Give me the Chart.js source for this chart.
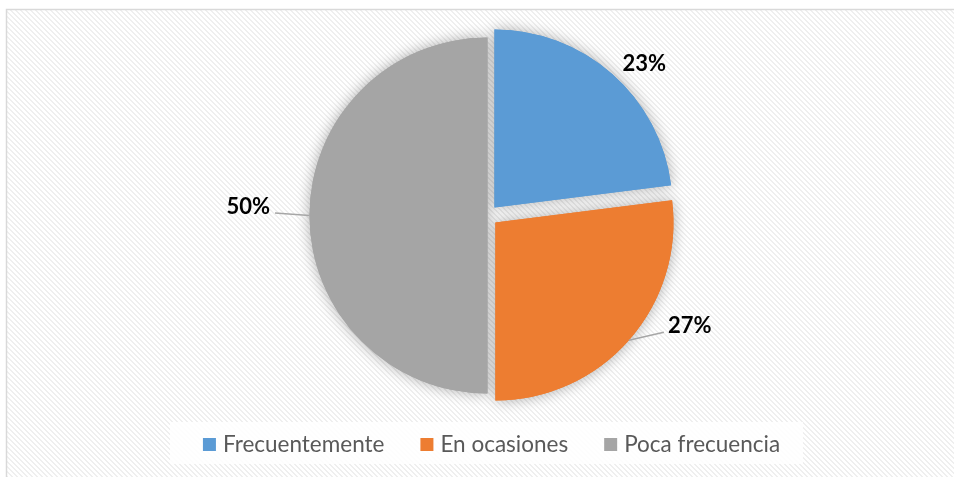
<!DOCTYPE html>
<html>
<head>
<meta charset="utf-8">
<script src="https://cdn.jsdelivr.net/npm/chart.js@4.4.0/dist/chart.umd.min.js"></script>
<style>
html,body{margin:0;padding:0;background:#fff;}
#wrap{width:954px;height:477px;position:relative;}
</style>
</head>
<body>
<div id="wrap"><canvas id="c"></canvas></div>
<script>
const categories = ['Frecuentemente', 'En ocasiones', 'Poca frecuencia'];
const values = [23, 27, 50];
const colors = ['#5b9bd5', '#ed7d31', '#a5a5a5'];

// hatch pattern
function makePattern(ctx) {
  const p = document.createElement('canvas');
  p.width = 5; p.height = 5;
  const g = p.getContext('2d');
  g.fillStyle = '#ffffff';
  g.fillRect(0, 0, 5, 5);
  g.fillStyle = '#efefef';
  for (let i = 0; i < 5; i++) {
    g.fillRect(i, i, 1, 1);
    g.fillRect((i + 1) % 5, i, 1, 1);
  }
  return ctx.createPattern(p, 'repeat');
}

const bgPlugin = {
  id: 'bg',
  beforeDraw(chart) {
    const ctx = chart.ctx;
    ctx.save();
    ctx.fillStyle = '#ffffff';
    ctx.fillRect(0, 0, chart.width, chart.height);
    ctx.fillStyle = makePattern(ctx);
    ctx.fillRect(7, 10, chart.width, chart.height);
    ctx.strokeStyle = '#d9d9d9';
    ctx.lineWidth = 1.5;
    ctx.beginPath();
    ctx.moveTo(6.5, chart.height + 2);
    ctx.lineTo(6.5, 9.5);
    ctx.lineTo(chart.width + 2, 9.5);
    ctx.stroke();
    ctx.restore();
  },
  beforeDatasetsDraw(chart) {
    const ctx = chart.ctx;
    const meta = chart.getDatasetMeta(0);
    meta.data.forEach(arc => {
      ctx.save();
      ctx.shadowColor = 'rgba(0,0,0,0.32)';
      ctx.shadowBlur = 14;
      arc.draw(ctx);
      ctx.restore();
    });
  }
};

const labelPlugin = {
  id: 'pieLabels',
  afterDatasetsDraw(chart, args, opts) {
    const ctx = chart.ctx;
    const meta = chart.getDatasetMeta(0);
    const ds = chart.data.datasets[0];
    meta.data.forEach((arc, i) => {
      const p = arc.getProps(['x', 'y', 'startAngle', 'endAngle', 'outerRadius'], true);
      const off = (arc.options.offset || 0) / 4;
      const mid = (p.startAngle + p.endAngle) / 2;
      const px = p.x + Math.cos(mid) * (off + p.outerRadius);
      const py = p.y + Math.sin(mid) * (off + p.outerRadius);
      const o = opts.place[i];
      ctx.save();
      if (o.leader) {
        ctx.strokeStyle = '#a6a6a6';
        ctx.lineWidth = 1.5;
        ctx.beginPath();
        ctx.moveTo(px, py);
        ctx.lineTo(px + o.lx, py + o.ly);
        ctx.stroke();
      }
      ctx.fillStyle = '#000000';
      ctx.font = 'bold 22px Lato';
      ctx.textAlign = o.align;
      ctx.textBaseline = 'middle';
      ctx.fillText(ds.data[i] + '%', px + o.dx, py + o.dy);
      ctx.restore();
    });
  }
};

const legendPlugin = {
  id: 'customLegend',
  afterDraw(chart) {
    const ctx = chart.ctx;
    ctx.save();
    ctx.fillStyle = 'rgba(255,255,255,0.85)';
    ctx.fillRect(170, 422, 633, 42);
    ctx.font = '22.5px Lato';
    ctx.textBaseline = 'alphabetic';
    ctx.textAlign = 'left';
    const box = 13, gapText = 7, gapItem = 36;
    const widths = chart.data.labels.map(t => ctx.measureText(t).width);
    let total = 0;
    widths.forEach((w, i) => { total += box + gapText + w + (i < widths.length - 1 ? gapItem : 0); });
    let x = 491.5 - total / 2;
    chart.data.labels.forEach((t, i) => {
      ctx.fillStyle = chart.data.datasets[0].backgroundColor[i];
      ctx.fillRect(x, 438, box, box);
      ctx.fillStyle = '#595959';
      ctx.fillText(t, x + box + gapText, 452);
      x += box + gapText + widths[i] + gapItem;
    });
    ctx.restore();
  }
};

new Chart(document.getElementById('c'), {
  type: 'pie',
  data: {
    labels: categories,
    datasets: [{
      data: values,
      backgroundColor: colors,
      borderWidth: 0,
      offset: [42, 42, 0],
      radius: 178
    }]
  },
  options: {
    responsive: true,
    maintainAspectRatio: false,
    animation: false,
    layout: { padding: { left: 21, right: 0, top: 10, bottom: 56 } },
    plugins: {
      legend: { display: false },
      tooltip: { enabled: false },
      pieLabels: {
        place: [
          { leader: false, dx: 32, dy: -10.5, align: 'center' },
          { leader: true, lx: 35, ly: -8, dx: 39, dy: -14, align: 'left' },
          { leader: true, lx: -34.5, ly: -2.5, dx: -39.5, dy: -9, align: 'right' }
        ]
      }
    }
  },
  plugins: [bgPlugin, labelPlugin, legendPlugin]
});
</script>
</body>
</html>
